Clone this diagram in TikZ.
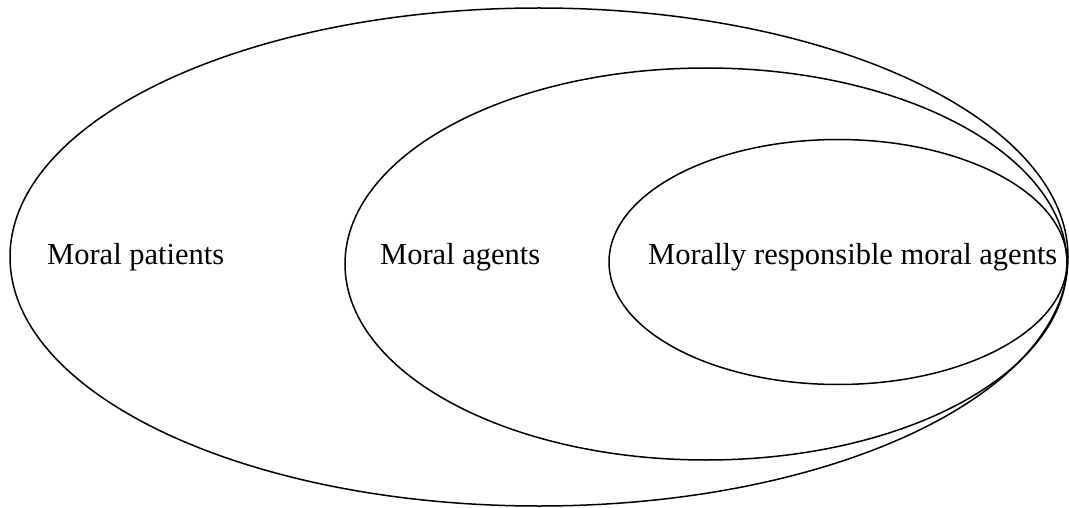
\documentclass[tikz,border=0pt]{standalone}
\usepackage{fontspec}
\setmainfont{Liberation Serif}
\usetikzlibrary{shapes.geometric}

\begin{document}
\begin{tikzpicture}[
  x=1pt, y=-1pt,
  ring/.style={draw=black, line width=1.5pt, ellipse, inner sep=0pt},
  label/.style={font=\fontsize{30.5}{34}\selectfont, inner sep=0pt, anchor=west}
]
\useasboundingbox (0,0) rectangle (1069,508);
\node[ring, minimum width=1058pt, minimum height=498pt] (patients) at (539,257) {};
\node[ring, minimum width=722pt, minimum height=392pt] (agents) at (706,264) {};
\node[ring, minimum width=458pt, minimum height=245pt] (responsible) at (838,262) {};
\node[label] (patientstext) at (47,257) {Moral patients};
\node[label] (agentstext) at (380,257) {Moral agents};
\node[label] (responsibletext) at (648,257) {Morally responsible moral agents};
\end{tikzpicture}
\end{document}
